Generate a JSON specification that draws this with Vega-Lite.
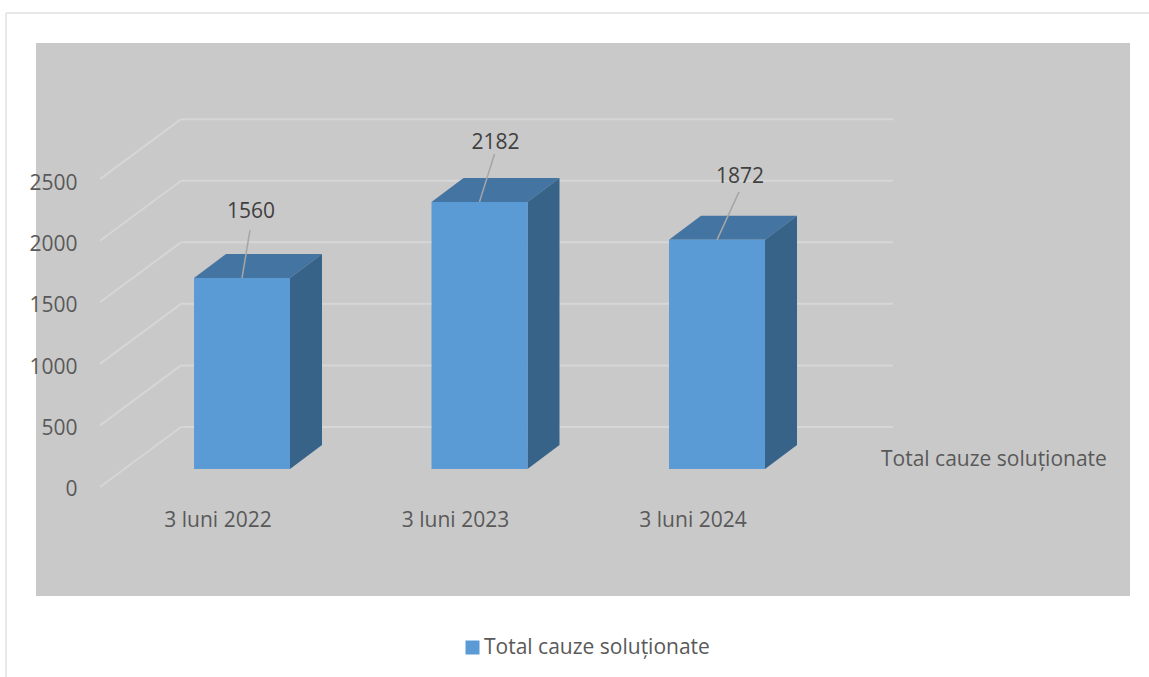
{
"$schema":"https://vega.github.io/schema/vega-lite/v6.json",
"width":1094,"height":553,
"autosize":"none",
"padding":{"left":36,"top":43,"right":19,"bottom":81},
"background":"#ffffff",
"view":{"fill":"#c9c9c9","stroke":null},
"datasets":{
"causes":[
{"period":"3 luni 2022","year":2022,"value":1560,"series":"Total cauze soluționate"},
{"period":"3 luni 2023","year":2023,"value":2182,"series":"Total cauze soluționate"},
{"period":"3 luni 2024","year":2024,"value":1872,"series":"Total cauze soluționate"}],
"ticks":[{"v":0},{"v":500},{"v":1000},{"v":1500},{"v":2000},{"v":2500}]
},
"config":{"font":"Open Sans"},
"encoding":{
"x":{"field":"x","type":"quantitative","title":null,"scale":{"domain":[2021.1326,2025.7389],"nice":false,"zero":false},
"axis":{"values":[2022,2023,2024],"labelExpr":"'3 luni ' + datum.value","domain":false,"ticks":false,"grid":false,"offset":-87,"labelOffset":-24.5,"labelPadding":0,"labelFont":"Open Sans","labelFontSize":21,"labelColor":"#595959","labelOverlap":false,"labelFlush":false,"labelBound":false,"labelAngle":0}},
"y":{"field":"y","type":"quantitative","title":null,"scale":{"domain":[-1037.6,3480],"nice":false,"zero":false},
"axis":{"values":[0,500,1000,1500,2000,2500],"domain":false,"ticks":false,"grid":false,"format":"d","offset":-41,"labelOffset":20.5,"labelPadding":0,"labelFont":"Open Sans","labelFontSize":21,"labelColor":"#595959","labelOverlap":false,"labelFlush":false,"labelBound":false}}
},
"layer":[
{"data":{"values":[{"edge":"frame"}]},
 "transform":[{"calculate":"2021.0063","as":"x"},{"calculate":"2026","as":"x2"},{"calculate":"3725","as":"y"}],
 "mark":{"type":"rule","color":"#e0e0e0","strokeWidth":1.5,"clip":false},
 "encoding":{"x2":{"field":"x2"}}},
{"data":{"values":[{"edge":"frame"}]},
 "transform":[{"calculate":"2021.0063","as":"x"},{"calculate":"3725","as":"y"},{"calculate":"-1699","as":"y2"}],
 "mark":{"type":"rule","color":"#e0e0e0","strokeWidth":1.5,"clip":false},
 "encoding":{"y2":{"field":"y2"}}},
{"data":{"name":"ticks"},
 "transform":[{"calculate":"2021.7432","as":"x"},{"calculate":"2024.7411","as":"x2"},{"calculate":"datum.v*1.006+343","as":"y"}],
 "mark":{"type":"rule","color":"#d6d6d6","strokeWidth":2},
 "encoding":{"x2":{"field":"x2"}}},
{"data":{"name":"ticks"},
 "transform":[{"calculate":"2021.7432","as":"x"},{"calculate":"2021.4021","as":"x2"},{"calculate":"datum.v*1.006+343","as":"y"},{"calculate":"datum.v*1.006-147","as":"y2"}],
 "mark":{"type":"rule","color":"#d6d6d6","strokeWidth":2},
 "encoding":{"x2":{"field":"x2"},"y2":{"field":"y2"}}},
{"data":{"name":"causes"},
 "transform":[{"calculate":"[0,1]","as":"e"},{"flatten":["e"]},
  {"calculate":"datum.year-0.2021+0.1347*datum.e","as":"x"},{"calculate":"datum.year+0.2021+0.1347*datum.e","as":"x2"},{"calculate":"datum.value+196*datum.e","as":"y"}],
 "mark":{"type":"area","orient":"horizontal","color":"#4474a1"},
 "encoding":{"x2":{"field":"x2"},"detail":{"field":"period"}}},
{"data":{"name":"causes"},
 "transform":[{"calculate":"[0,1]","as":"e"},{"flatten":["e"]},
  {"calculate":"datum.year+0.2021+0.1347*datum.e","as":"x"},{"calculate":"datum.value+196*datum.e","as":"y"},{"calculate":"196*datum.e","as":"y2"}],
 "mark":{"type":"area","orient":"vertical","color":"#376388"},
 "encoding":{"y2":{"field":"y2"},"detail":{"field":"period"}}},
{"data":{"name":"causes"},
 "transform":[{"calculate":"datum.year-0.2021","as":"x"},{"calculate":"datum.year+0.2021","as":"x2"},{"calculate":"datum.value","as":"y"},{"calculate":"0","as":"y2"}],
 "mark":{"type":"rect"},
 "encoding":{"x2":{"field":"x2"},"y2":{"field":"y2"},
  "color":{"field":"series","type":"nominal","scale":{"range":["#5b9bd5"]},
   "legend":{"title":null,"orient":"none","legendX":426,"legendY":594,"symbolType":"square","symbolSize":196,"symbolStrokeWidth":0,"labelFont":"Open Sans","labelFontSize":21,"labelColor":"#595959","labelOffset":1,"labelLimit":400,"padding":0}}}},
{"data":{"name":"causes"},
 "transform":[{"calculate":"datum.year","as":"x"},{"calculate":"datum.year+(8+7*(datum.year-2022))/237.5","as":"x2"},{"calculate":"datum.value","as":"y"},{"calculate":"datum.value+392","as":"y2"}],
 "mark":{"type":"rule","color":"#a6a6a6","strokeWidth":1.5},
 "encoding":{"x2":{"field":"x2"},"y2":{"field":"y2"}}},
{"data":{"name":"causes"},
 "transform":[{"calculate":"datum.year+(9+7*(datum.year-2022))/237.5","as":"x"},{"calculate":"datum.value+541-(datum.value-1560)*0.09","as":"y"}],
 "mark":{"type":"text","fontSize":21,"font":"Open Sans","color":"#404040","baseline":"middle"},
 "encoding":{"text":{"field":"value","type":"quantitative","format":"d"}}},
{"data":{"values":[{"series":"Total cauze soluționate"}]},
 "transform":[{"calculate":"2024.6905","as":"x"},{"calculate":"74","as":"y"}],
 "mark":{"type":"text","fontSize":21,"font":"Open Sans","color":"#595959","align":"left","baseline":"middle"},
 "encoding":{"text":{"field":"series"}}}
]
}
